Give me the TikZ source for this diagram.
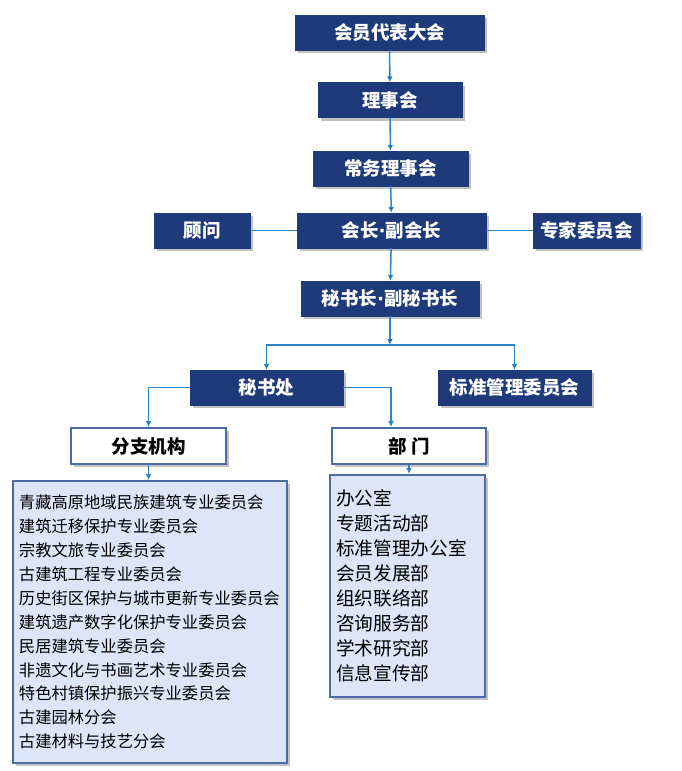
\documentclass[tikz,border=0pt]{standalone}
\usepackage{fontspec}
\setmainfont{Noto Sans CJK SC}
\newfontfamily\dotfont{DejaVu Sans}
\usetikzlibrary{arrows, shapes, shadows}
\usetikzlibrary{arrows.meta}
\definecolor{navy}{HTML}{1F3A7A}
\definecolor{lightfill}{HTML}{DCE6F8}
\definecolor{boxblue}{HTML}{4A6BA6}
\definecolor{lineblue}{HTML}{2A86C9}
\newcommand{\middot}{{\dotfont\bfseries ·}}

\begin{document}
\begin{tikzpicture}[x=1pt,y=-1pt,
    >={Latex[length=6pt,width=6pt]},
    shade/.style={drop shadow={shadow xshift=3pt,shadow yshift=-3pt,fill=black!40,opacity=0.6}},
    head/.style={shade,draw=navy,fill=navy,text=white,inner sep=0pt,minimum height=35,
        font=\fontsize{18.5}{22}\selectfont\bfseries},
    sub/.style={shade,draw=boxblue,line width=2pt,fill=white,inner sep=0pt,minimum height=36,
        font=\fontsize{18.5}{22}\selectfont\bfseries},
    list/.style={shade,draw=boxblue,line width=2pt,fill=lightfill,inner xsep=6pt,inner ysep=0pt,align=left},
    link/.style={draw=lineblue,line width=1.5pt}]
%\tikzstyle{frame}=[draw=red]
\useasboundingbox (0,0) rectangle (681,771);

\begin{scope}
    \node[head,minimum width=189] (A) at (389.5,32.5) {会员代表大会};
    \node[head,minimum width=144] (B) at (390,100) {理事会};
    \node[head,minimum width=155] (C) at (390.5,168.5) {常务理事会};
    \node[head,minimum width=189] (D) at (391.5,230.5) {会长\middot 副会长};
    \node[head,minimum width=96] (L) at (202,230.5) {顾问};
    \node[head,minimum width=107] (R) at (586.5,230.5) {专家委员会};
    \node[head,minimum width=178] (E) at (390,298.5) {秘书长\middot 副秘书长};
    \path [link,->] (A) edge (B);
    \path [link,->] (B) edge (C);
    \path [link,->] (C) edge (D);
    \path [link,->] (D) edge (E);
    \path [link,-] (L) edge (D);
    \path [link,-] (D) edge (R);
\end{scope}

\begin{scope}
    \node[head,minimum width=153] (F) at (266.5,387.5) {秘书处};
    \node[head,minimum width=153] (G) at (514.5,387.5) {标准管理委员会};
    \node[sub,minimum width=155] (H) at (148.5,446) {分支机构};
    \node[sub,minimum width=154] (I) at (409,446) {部\ 门};
    \coordinate (M) at (390,345);
    \path [link,->] (E) edge (M);
    \draw [link,->] (M) -| (F);
    \draw [link,->] (M) -| (G);
    \draw [link,->] (F) -| (H);
    \draw [link,->] (F) -| ([xshift=-18]I.north);
\end{scope}

\node[list,text width=262,minimum width=274,minimum height=282,
    font=\fontsize{16.3}{23.9}\selectfont] (J) at (150,622) {%
    青藏高原地域民族建筑专业委员会\\
    建筑迁移保护专业委员会\\
    宗教文旅专业委员会\\
    古建筑工程专业委员会\\
    历史街区保护与城市更新专业委员会\\
    建筑遗产数字化保护专业委员会\\
    民居建筑专业委员会\\
    非遗文化与书画艺术专业委员会\\
    特色村镇保护振兴专业委员会\\
    古建园林分会\\
    古建材料与技艺分会};
\node[list,text width=143,minimum width=155,minimum height=222,
    font=\fontsize{18.7}{25}\selectfont] (K) at (407.5,586) {%
    办公室\\
    专题活动部\\
    标准管理办公室\\
    会员发展部\\
    组织联络部\\
    咨询服务部\\
    学术研究部\\
    信息宣传部};
\draw [link,->] (H) -- (H |- J.north);
\draw [link,->] (I) -- (I |- K.north);
\end{tikzpicture}
\end{document}
